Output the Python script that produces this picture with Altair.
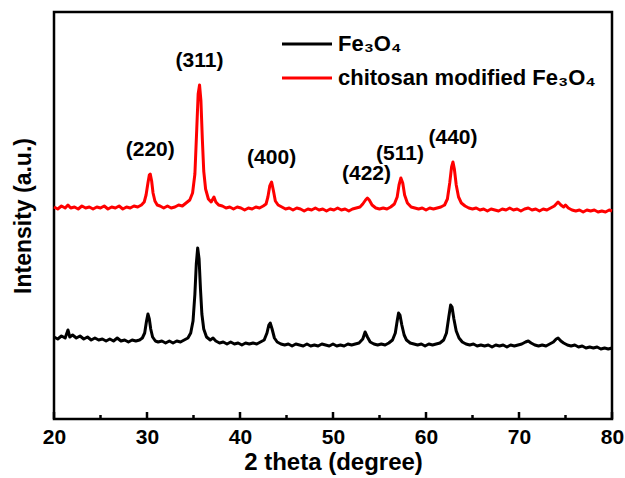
import altair as alt
import pandas as pd

# ---- data (2theta in degrees, intensity in a.u.) ----
red_theta = [20.0, 20.4, 20.8, 21.2, 21.5, 21.8, 22.2, 22.6, 23.0, 23.4, 23.8, 24.2, 24.6, 25.0, 25.4, 25.8,
             26.2, 26.6, 27.0, 27.4, 27.8, 28.2, 28.6, 29.0, 29.4, 29.7, 29.9, 30.1, 30.25, 30.35, 30.5, 30.65,
             30.85, 31.1, 31.4, 31.8, 32.2, 32.6, 33.0, 33.4, 33.8, 34.2, 34.6, 34.9, 35.15, 35.35, 35.5, 35.65,
             35.8, 35.95, 36.1, 36.3, 36.6, 36.9, 37.2, 37.4, 37.7, 38.1, 38.5, 38.9, 39.3, 39.7, 40.1, 40.5,
             40.9, 41.3, 41.7, 42.1, 42.5, 42.8, 43.0, 43.2, 43.4, 43.6, 43.8, 44.1, 44.5, 44.9, 45.3, 45.7,
             46.1, 46.5, 46.9, 47.3, 47.7, 48.1, 48.5, 48.9, 49.3, 49.7, 50.1, 50.5, 50.9, 51.3, 51.7, 52.1,
             52.5, 52.9, 53.2, 53.5, 53.7, 53.9, 54.2, 54.6, 55.0, 55.4, 55.8, 56.2, 56.6, 56.9, 57.1, 57.3,
             57.5, 57.7, 58.0, 58.4, 58.8, 59.2, 59.6, 60.0, 60.4, 60.8, 61.2, 61.6, 62.0, 62.3, 62.55, 62.75,
             62.9, 63.05, 63.25, 63.5, 63.8, 64.2, 64.6, 65.0, 65.4, 65.8, 66.2, 66.6, 67.0, 67.4, 67.8, 68.2,
             68.6, 69.0, 69.4, 69.8, 70.2, 70.6, 71.0, 71.4, 71.8, 72.2, 72.6, 73.0, 73.4, 73.8, 74.2, 74.5,
             74.8, 75.0, 75.3, 75.7, 76.1, 76.5, 76.9, 77.3, 77.7, 78.1, 78.5, 78.9, 79.3, 79.7, 80.0]
red_int = [212, 210, 213, 211, 214, 211, 212, 210, 213, 211, 212, 210, 212, 211, 213, 210,
           212, 211, 213, 210, 212, 211, 213, 212, 214, 217, 224, 236, 244, 245, 238, 226,
           218, 214, 213, 211, 213, 211, 212, 214, 213, 216, 219, 226, 245, 290, 325, 334,
           318, 280, 248, 230, 220, 217, 222, 217, 214, 213, 211, 212, 210, 212, 211, 209,
           211, 210, 212, 211, 213, 215, 222, 233, 237, 228, 218, 214, 212, 210, 211, 209,
           211, 210, 208, 210, 209, 211, 209, 210, 208, 210, 209, 211, 209, 210, 208, 210,
           211, 212, 215, 219, 221, 219, 214, 211, 210, 211, 210, 212, 215, 222, 234, 241,
           236, 224, 216, 212, 211, 210, 211, 209, 211, 210, 211, 212, 214, 220, 236, 252,
           257, 250, 234, 222, 216, 213, 211, 210, 211, 209, 210, 208, 210, 209, 208, 210,
           209, 211, 209, 210, 208, 210, 211, 209, 210, 208, 210, 209, 211, 213, 217, 214,
           212, 214, 211, 209, 208, 209, 207, 209, 208, 209, 207, 208, 207, 209, 208]

black_theta = [20.0, 20.4, 20.8, 21.2, 21.5, 21.7, 22.0, 22.4, 22.8, 23.2, 23.6, 24.0, 24.4, 24.8, 25.2, 25.6,
               26.0, 26.4, 26.8, 27.2, 27.6, 28.0, 28.4, 28.8, 29.2, 29.5, 29.75, 29.95, 30.1, 30.25, 30.4, 30.6,
               30.9, 31.2, 31.6, 32.0, 32.4, 32.8, 33.2, 33.6, 34.0, 34.4, 34.7, 34.95, 35.15, 35.3, 35.45, 35.6,
               35.75, 35.9, 36.1, 36.4, 36.8, 37.1, 37.4, 37.8, 38.2, 38.6, 39.0, 39.4, 39.8, 40.2, 40.6, 41.0,
               41.4, 41.8, 42.2, 42.6, 42.9, 43.1, 43.25, 43.45, 43.7, 44.0, 44.4, 44.8, 45.2, 45.6, 46.0, 46.4,
               46.8, 47.2, 47.6, 48.0, 48.4, 48.8, 49.2, 49.6, 50.0, 50.4, 50.8, 51.2, 51.6, 52.0, 52.4, 52.8,
               53.2, 53.45, 53.7, 54.0, 54.4, 54.8, 55.2, 55.6, 56.0, 56.4, 56.7, 56.9, 57.05, 57.2, 57.4, 57.65,
               57.9, 58.3, 58.7, 59.1, 59.5, 59.9, 60.3, 60.7, 61.1, 61.5, 61.9, 62.2, 62.45, 62.65, 62.8, 63.0,
               63.25, 63.55, 63.9, 64.3, 64.7, 65.1, 65.5, 65.9, 66.3, 66.7, 67.1, 67.5, 67.9, 68.3, 68.7, 69.1,
               69.5, 69.9, 70.3, 70.7, 71.0, 71.3, 71.7, 72.1, 72.5, 72.9, 73.3, 73.7, 74.0, 74.2, 74.5, 74.8,
               75.2, 75.6, 76.0, 76.4, 76.8, 77.2, 77.6, 78.0, 78.4, 78.8, 79.2, 79.6, 80.0]
black_int = [82, 80, 83, 81, 89, 82, 84, 81, 83, 80, 82, 79, 81, 79, 80, 78,
             80, 78, 81, 78, 79, 77, 79, 78, 79, 81, 86, 98, 105, 100, 90, 82,
             78, 77, 78, 76, 78, 76, 78, 77, 79, 81, 86, 98, 125, 155, 171, 160,
             130, 105, 90, 82, 79, 81, 78, 76, 77, 75, 77, 75, 76, 74, 76, 75,
             76, 75, 77, 79, 86, 94, 96, 90, 81, 77, 75, 74, 75, 73, 75, 74,
             73, 75, 73, 74, 73, 75, 74, 73, 75, 73, 74, 73, 75, 74, 75, 76,
             80, 87, 82, 77, 75, 74, 75, 74, 76, 79, 86, 98, 106, 104, 94, 84,
             79, 76, 75, 74, 75, 73, 75, 74, 75, 76, 79, 86, 102, 114, 112, 100,
             88, 81, 77, 75, 74, 75, 73, 74, 73, 74, 72, 74, 73, 74, 72, 74,
             73, 74, 75, 77, 78, 76, 74, 73, 74, 73, 75, 77, 80, 81, 78, 76,
             74, 73, 74, 72, 73, 71, 72, 71, 72, 70, 71, 70, 71]

series_names = ["Fe\u2083O\u2084", "chitosan modified Fe\u2083O\u2084"]
series_colors = ["#000000", "#FF0000"]

peak_labels = ["(220)", "(311)", "(400)", "(422)", "(511)", "(440)"]
peak_theta = [30.35, 35.65, 43.4, 53.6, 57.2, 62.9]
peak_int = [245, 334, 237, 221, 241, 257]

major_ticks = [20, 30, 40, 50, 60, 70, 80]
minor_ticks = [25, 35, 45, 55, 65, 75]

# ---- tables ----
df = pd.concat([
    pd.DataFrame({"theta": black_theta, "intensity": black_int, "series": series_names[0]}),
    pd.DataFrame({"theta": red_theta, "intensity": red_int, "series": series_names[1]}),
])
peaks = pd.DataFrame({"label": peak_labels, "theta": peak_theta, "intensity": peak_int})
majors = pd.DataFrame({"theta": major_ticks})
minors = pd.DataFrame({"theta": minor_ticks})

FONT = "Liberation Sans"
W, H = 558, 407

xscale = alt.Scale(domain=[20, 80], nice=False, zero=False)
yscale = alt.Scale(domain=[0, 407], nice=False, zero=False)

xaxis = alt.Axis(values=major_ticks, format="d", ticks=False, domain=False, grid=False,
                 labelFont=FONT, labelFontSize=21, labelFontWeight="bold", labelColor="black",
                 labelPadding=7, labelFlush=False, labelOverlap=False,
                 title="2 theta (degree)", titleFont=FONT, titleFontSize=24, titleFontWeight="bold",
                 titleColor="black", titlePadding=3)
yaxis = alt.Axis(labels=False, ticks=False, domain=False, grid=False,
                 title="Intensity (a.u.)", titleFont=FONT, titleFontSize=23, titleFontWeight="bold",
                 titleColor="black", titlePadding=19)

lines = alt.Chart(df).mark_line(strokeWidth=3, strokeJoin="round").encode(
    x=alt.X("theta:Q", scale=xscale, axis=xaxis),
    y=alt.Y("intensity:Q", scale=yscale, axis=yaxis),
    color=alt.Color("series:N", scale=alt.Scale(domain=series_names, range=series_colors), legend=None),
    detail="series:N",
    order="theta:Q",
)

labels = alt.Chart(peaks).mark_text(font=FONT, fontSize=21, fontWeight="bold", color="black",
                                    baseline="middle", align="center", dy=-24).encode(
    x=alt.X("theta:Q", scale=xscale),
    y=alt.Y("intensity:Q", scale=yscale),
    text="label:N",
)

major_rules = alt.Chart(majors).mark_rule(color="black", strokeWidth=2.5).encode(
    x=alt.X("theta:Q", scale=xscale), y=alt.value(H), y2=alt.value(H - 7))
minor_rules = alt.Chart(minors).mark_rule(color="black", strokeWidth=2.5).encode(
    x=alt.X("theta:Q", scale=xscale), y=alt.value(H), y2=alt.value(H - 4))

legend_df = pd.DataFrame({"series": series_names, "color": series_colors})
leg_layers = []
for i, (name, col) in enumerate(zip(series_names, series_colors)):
    yy = 32 + 34 * i
    one = legend_df[legend_df["series"] == name]
    leg_layers.append(alt.Chart(one).mark_rule(color=col, strokeWidth=3).encode(
        x=alt.value(228), x2=alt.value(278), y=alt.value(yy)))
    leg_layers.append(alt.Chart(one).mark_text(font=FONT, fontSize=22, fontWeight="bold", color="black",
                                               align="left", baseline="middle").encode(
        x=alt.value(284), y=alt.value(yy), text="series:N"))

chart = alt.layer(lines, labels, major_rules, minor_rules, *leg_layers).properties(
    width=W, height=H,
    autosize=alt.AutoSizeParams(type="none"),
    padding={"left": 54, "top": 12, "right": 13, "bottom": 59},
    background="white",
).configure_view(stroke="black", strokeWidth=2.5)

chart.save("out.html", embed_options={"renderer": "svg", "actions": False})
